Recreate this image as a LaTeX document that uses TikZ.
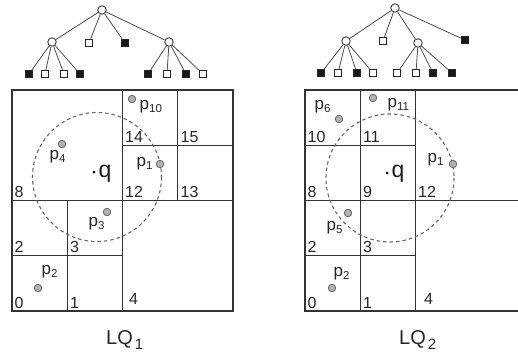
\documentclass[tikz,border=0pt]{standalone}
\usepackage{fontspec}
\setmainfont{Liberation Sans}
\newcommand{\plbl}[1]{p\raisebox{-3pt}{\fontsize{11.5}{11.5}\selectfont #1}}
\newcommand{\lqlbl}[1]{LQ\kern2pt\raisebox{-5pt}{\fontsize{15}{15}\selectfont #1}}
\begin{document}
\begin{tikzpicture}[x=1pt,y=-1pt,
  gridline/.style={draw=black!80, line width=1.1pt},
  inode/.style={circle, draw=black!75, fill=white, line width=0.9pt, minimum size=8.5pt, inner sep=0pt},
  wleaf/.style={rectangle, draw=black!85, fill=white, line width=0.9pt, minimum size=7.5pt, inner sep=0pt},
  bleaf/.style={rectangle, draw=black!85, fill=black!90, line width=0.9pt, minimum size=7.5pt, inner sep=0pt},
  edge/.style={draw=black!70, line width=0.8pt},
  dpt/.style={circle, draw=black!60, fill=black!30, line width=0.8pt, minimum size=7.5pt, inner sep=0pt},
  qpt/.style={circle, fill=black, minimum size=3pt, inner sep=0pt},
  rangecirc/.style={draw=black!60, line width=1.1pt, dash pattern=on 3.5pt off 3pt},
  cellno/.style={anchor=base west, inner sep=0pt, text=black!85, font=\fontsize{16}{16}\selectfont},
  plab/.style={anchor=base west, inner sep=0pt, text=black!85, font=\fontsize{17}{17}\selectfont},
  qlab/.style={anchor=base west, inner sep=0pt, text=black!90, font=\fontsize{23}{23}\selectfont},
  title/.style={anchor=base west, inner sep=0pt, text=black!85, font=\fontsize{20}{20}\selectfont}
]
\useasboundingbox (0,0) rectangle (518,354);
\clip (0,0) rectangle (518,354);

% ---------- left tree ----------
\node[inode] (La) at (102,10) {};
\node[inode] (Lb) at (52,42) {};
\node[wleaf] (Lc) at (89,43) {};
\node[bleaf] (Ld) at (125,43) {};
\node[inode] (Le) at (169,42) {};
\node[bleaf] (L0) at (29,74) {};
\node[wleaf] (L1) at (45,74) {};
\node[wleaf] (L2) at (64,74) {};
\node[bleaf] (L3) at (80,74) {};
\node[bleaf] (L12) at (148,74) {};
\node[wleaf] (L13) at (167,74) {};
\node[bleaf] (L14) at (186,74) {};
\node[wleaf] (L15) at (203,74) {};
\foreach \c in {Lb,Lc,Ld,Le} \draw[edge] (La) -- (\c);
\foreach \c in {L0,L1,L2,L3} \draw[edge] (Lb) -- (\c);
\foreach \c in {L12,L13,L14,L15} \draw[edge] (Le) -- (\c);

% ---------- right tree ----------
\node[inode] (Ra) at (395,8) {};
\node[inode] (Rb) at (346,41) {};
\node[wleaf] (Rc) at (383,41) {};
\node[inode] (Rd) at (418,43) {};
\node[bleaf] (Re) at (465,40) {};
\node[bleaf] (R0) at (321,73) {};
\node[wleaf] (R1) at (338,73) {};
\node[bleaf] (R2) at (357,73) {};
\node[wleaf] (R3) at (373,73) {};
\node[wleaf] (R8) at (397,73) {};
\node[wleaf] (R9) at (416,73) {};
\node[bleaf] (R10) at (433,73) {};
\node[bleaf] (R11) at (452,73) {};
\foreach \c in {Rb,Rc,Rd,Re} \draw[edge] (Ra) -- (\c);
\foreach \c in {R0,R1,R2,R3} \draw[edge] (Rb) -- (\c);
\foreach \c in {R8,R9,R10,R11} \draw[edge] (Rd) -- (\c);

% ---------- left grid ----------
\draw[gridline] (12,90) rectangle (233,311);
\draw[gridline] (122.5,90) -- (122.5,311);
\draw[gridline] (12,200.5) -- (233,200.5);
\draw[gridline] (67.25,200.5) -- (67.25,311);
\draw[gridline] (12,255.75) -- (122.5,255.75);
\draw[gridline] (177.75,90) -- (177.75,200.5);
\draw[gridline] (122.5,145.25) -- (233,145.25);

\node[cellno] at (14.5,308) {0};
\node[cellno] at (70,308) {1};
\node[cellno] at (14.5,252.5) {2};
\node[cellno] at (70,252.5) {3};
\node[cellno] at (129,304) {4};
\node[cellno] at (14.5,197.5) {8};
\node[cellno] at (125,197.5) {12};
\node[cellno] at (180.5,197.5) {13};
\node[cellno] at (125,142) {14};
\node[cellno] at (180.5,142) {15};

\draw[rangecirc] (97,177) circle (64.5);

\node[dpt] (a10) at (132,99) {};
\node[dpt] (a4) at (62,144) {};
\node[dpt] (a1) at (160,164) {};
\node[dpt] (a3) at (107,212) {};
\node[dpt] (a2) at (38,288) {};
\node[qpt] (aq) at (94,172) {};
\node[plab] at (139.5,109) {\plbl{10}};
\node[plab] at (49.5,159) {\plbl{4}};
\node[plab] at (136.5,166) {\plbl{1}};
\node[plab] at (88.5,226) {\plbl{3}};
\node[plab] at (41.5,274) {\plbl{2}};
\node[qlab] at (98.5,177.5) {q};
\node[title] at (106,344) {\lqlbl{1}};

% ---------- right grid ----------
\draw[gridline] (305,90) rectangle (526,311);
\draw[gridline] (415.5,90) -- (415.5,311);
\draw[gridline] (360.25,90) -- (360.25,311);
\draw[gridline] (305,200.5) -- (526,200.5);
\draw[gridline] (305,255.75) -- (415.5,255.75);
\draw[gridline] (305,145.25) -- (415.5,145.25);

\node[cellno] at (307.5,308) {0};
\node[cellno] at (363,308) {1};
\node[cellno] at (307.5,252.5) {2};
\node[cellno] at (363,252.5) {3};
\node[cellno] at (424,304) {4};
\node[cellno] at (307.5,197.5) {8};
\node[cellno] at (363,197.5) {9};
\node[cellno] at (418,197.5) {12};
\node[cellno] at (307.5,142) {10};
\node[cellno] at (363,142) {11};

\draw[rangecirc] (390,178) circle (64);

\node[dpt] (b6) at (339,119) {};
\node[dpt] (b11) at (373,98) {};
\node[dpt] (b1) at (453,164) {};
\node[dpt] (b5) at (348,213) {};
\node[dpt] (b2) at (332,288) {};
\node[qpt] (bq) at (387,173) {};
\node[plab] at (314.5,109) {\plbl{6}};
\node[plab] at (387.5,107) {\plbl{11}};
\node[plab] at (427.5,162) {\plbl{1}};
\node[plab] at (326.5,230) {\plbl{5}};
\node[plab] at (333.5,276) {\plbl{2}};
\node[qlab] at (391.5,177.5) {q};
\node[title] at (399,344) {\lqlbl{2}};
\end{tikzpicture}
\end{document}
